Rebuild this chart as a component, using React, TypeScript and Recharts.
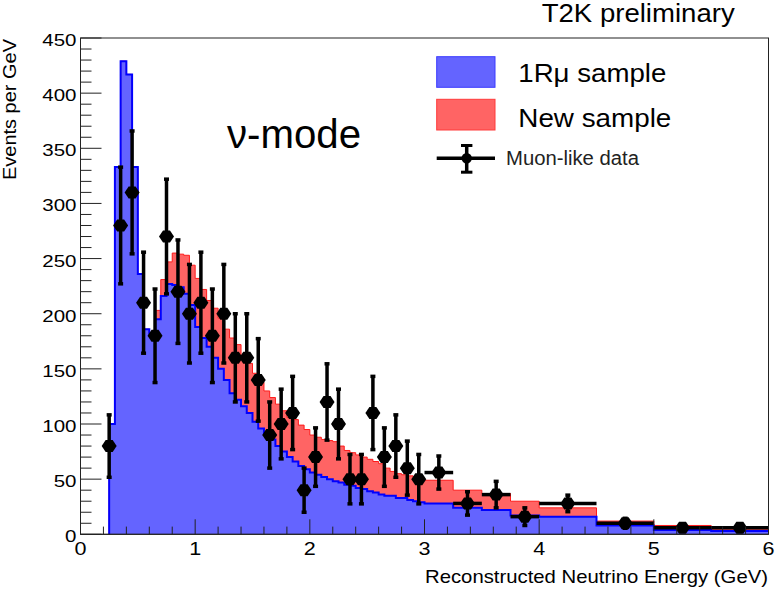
import React from 'react';
import { ComposedChart, Area, Line, Scatter, XAxis, YAxis, ErrorBar } from 'recharts';

// MC histogram bin low edges (GeV); last bin ends at 6.0
const binLowEdges = [
  0.25, 0.3, 0.35, 0.4, 0.45, 0.5, 0.55, 0.6, 0.65, 0.7, 0.75, 0.8, 0.85, 0.9, 0.95,
  1.0, 1.05, 1.1, 1.15, 1.2, 1.25, 1.3, 1.35, 1.4, 1.45, 1.5, 1.55, 1.6, 1.65, 1.7, 1.75, 1.8, 1.85, 1.9, 1.95,
  2.0, 2.05, 2.1, 2.15, 2.2, 2.25, 2.3, 2.35, 2.4, 2.45, 2.5, 2.55, 2.6, 2.65, 2.7, 2.75, 2.8, 2.85, 2.9, 2.95,
  3.0, 3.25, 3.5, 3.75, 4.0, 4.5, 5.0, 5.5,
];
const binHighEdge = 6.0;

// 1Rmu sample (events per GeV)
const sample1Rmu = [
  100, 333, 429, 417, 333, 236, 186, 180, 195, 216, 227, 226, 224, 218, 208,
  188, 178, 170, 160, 150, 140, 128, 122, 116, 110, 102, 96, 90, 86, 80, 75, 70, 66, 62, 59,
  56, 54, 52, 50, 48, 47, 45, 44, 42, 41, 39, 38, 36, 35, 35, 33, 33, 31, 30, 29,
  28, 24, 22, 17, 16, 8, 4, 3,
];

// New sample (stacked on top of 1Rmu)
const sampleNew = [
  0, 0, 0, 0, 0, 0, 0, 2, 8, 15, 20, 29, 30, 35, 36,
  44, 44, 42, 45, 46, 46, 50, 50, 46, 45, 44, 42, 40, 38, 38, 37, 36, 38, 37, 36,
  34, 34, 34, 35, 36, 33, 31, 30, 30, 29, 29, 28, 28, 25, 22, 22, 21, 22, 22, 22,
  21, 16, 15, 13, 8, 4, 4, 2,
];

// Muon-like data
const dataEnergy = [
  0.25, 0.35, 0.45, 0.55, 0.65, 0.75, 0.85, 0.95, 1.05, 1.15, 1.25, 1.35, 1.45, 1.55,
  1.65, 1.75, 1.85, 1.95, 2.05, 2.15, 2.25, 2.35, 2.45, 2.55, 2.65, 2.75, 2.85, 2.95,
  3.125, 3.375, 3.625, 3.875, 4.25, 4.75, 5.25, 5.75,
];
const dataEvents = [
  80, 280, 310, 210, 180, 270, 220, 200, 210, 180, 200, 160, 160, 140,
  90, 100, 110, 40, 70, 120, 100, 50, 50, 110, 70, 80, 60, 50,
  56, 28, 36, 16, 28, 10, 6, 6,
];
const dataErrY = [
  28.3, 52.9, 55.7, 45.8, 42.4, 52.0, 46.9, 44.7, 45.8, 42.4, 44.7, 40.0, 40.0, 37.4,
  30.0, 31.6, 33.2, 20.0, 26.5, 34.6, 31.6, 22.4, 22.4, 33.2, 26.5, 28.3, 24.5, 22.4,
  15.0, 10.6, 12.0, 8.0, 7.5, 4.5, 3.5, 3.5,
];
const dataErrX = [
  0.05, 0.05, 0.05, 0.05, 0.05, 0.05, 0.05, 0.05, 0.05, 0.05, 0.05, 0.05, 0.05, 0.05,
  0.05, 0.05, 0.05, 0.05, 0.05, 0.05, 0.05, 0.05, 0.05, 0.05, 0.05, 0.05, 0.05, 0.05,
  0.125, 0.125, 0.125, 0.125, 0.25, 0.25, 0.25, 0.25,
];

const xTicks = [
  0, 0.2, 0.4, 0.6, 0.8, 1, 1.2, 1.4, 1.6, 1.8, 2, 2.2, 2.4, 2.6, 2.8, 3,
  3.2, 3.4, 3.6, 3.8, 4, 4.2, 4.4, 4.6, 4.8, 5, 5.2, 5.4, 5.6, 5.8, 6,
];
const yTicks = [
  0, 10, 20, 30, 40, 50, 60, 70, 80, 90, 100, 110, 120, 130, 140, 150, 160, 170, 180, 190,
  200, 210, 220, 230, 240, 250, 260, 270, 280, 290, 300, 310, 320, 330, 340, 350, 360, 370,
  380, 390, 400, 410, 420, 430, 440, 450,
];

const histRows = [
  { x: binLowEdges[0], blue: 0, red: 0 },
  ...binLowEdges.map((e, i) => ({ x: e, blue: sample1Rmu[i], red: sampleNew[i] })),
  { x: binHighEdge, blue: sample1Rmu[sample1Rmu.length - 1], red: sampleNew[sampleNew.length - 1] },
];

const dataRows = dataEnergy.map((e, i) => ({ x: e, y: dataEvents[i], ey: dataErrY[i], ex: dataErrX[i] }));

const FONT = '"Liberation Sans", Arial, Helvetica, sans-serif';
const AXIS = '#222';

const YTick = (props: any) => {
  const { x, y, payload } = props;
  const v = payload.value as number;
  const major = v % 50 === 0;
  const s = String(v);
  return (
    <g>
      <line x1={x} x2={x + (major ? 21 : 11)} y1={y} y2={y} stroke={AXIS} strokeWidth={1} />
      {major && (
        <text x={x - 4} y={y + 8} textAnchor="end" fontFamily={FONT} fontSize={17} fill="#000"
          textLength={s.length * 11.4} lengthAdjust="spacingAndGlyphs">{s}</text>
      )}
    </g>
  );
};

const XTick = (props: any) => {
  const { x, y, payload } = props;
  const v = payload.value as number;
  const major = Math.abs(v - Math.round(v)) < 1e-6;
  const s = String(Math.round(v));
  return (
    <g>
      <line x1={x} x2={x} y1={y} y2={y - (major ? 15 : 7.7)} stroke={AXIS} strokeWidth={1} />
      {major && (
        <text x={x} y={y + 21} textAnchor="middle" fontFamily={FONT} fontSize={19} fill="#000"
          textLength={12} lengthAdjust="spacingAndGlyphs">{s}</text>
      )}
    </g>
  );
};

const Marker = (props: any) => {
  const { cx, cy } = props;
  if (cx == null || cy == null) return null;
  const pts = [
    [cx - 7.5, cy], [cx - 3.5, cy - 6], [cx + 3.5, cy - 6],
    [cx + 7.5, cy], [cx + 3.5, cy + 6], [cx - 3.5, cy + 6],
  ].map((p) => p.join(',')).join(' ');
  return <polygon points={pts} fill="#000" />;
};

const L = 80.5, R = 768.5, T = 38, B = 534.3;
const Y_AXIS_W = 70;
const X_AXIS_H = 50;

export default function App() {
  return (
    <div style={{ position: 'absolute', left: 0, top: 0, width: 776, height: 592, background: '#fff' }}>
      <ComposedChart
        width={776}
        height={592}
        data={histRows}
        margin={{ left: L - Y_AXIS_W, right: 776 - R, top: T, bottom: 592 - B - X_AXIS_H }}
      >
        <XAxis
          dataKey="x"
          type="number"
          domain={[0, 6]}
          ticks={xTicks}
          interval={0}
          height={X_AXIS_H}
          tickSize={0}
          tickMargin={0}
          tickLine={false}
          axisLine={{ stroke: AXIS, strokeWidth: 1 }}
          tick={<XTick />}
          allowDataOverflow
        />
        <YAxis
          type="number"
          domain={[0, 450]}
          ticks={yTicks}
          interval={0}
          width={Y_AXIS_W}
          tickSize={0}
          tickMargin={0}
          tickLine={false}
          axisLine={{ stroke: AXIS, strokeWidth: 1 }}
          tick={<YTick />}
          allowDataOverflow
        />
        <Area
          type="stepAfter"
          dataKey="blue"
          stackId="mc"
          fill="#6464ff"
          fillOpacity={1}
          stroke="none"
          isAnimationActive={false}
        />
        <Area
          type="stepAfter"
          dataKey="red"
          stackId="mc"
          fill="#ff6464"
          fillOpacity={1}
          stroke="#ff1a1a"
          strokeWidth={1}
          isAnimationActive={false}
        />
        <Line
          type="stepAfter"
          dataKey="blue"
          stroke="#0000ff"
          strokeWidth={2}
          dot={false}
          activeDot={false}
          isAnimationActive={false}
        />
        <Scatter data={dataRows} dataKey="y" shape={<Marker />} isAnimationActive={false}>
          <ErrorBar dataKey="ey" direction="y" width={2.5} stroke="#000" strokeWidth={3.5} />
          <ErrorBar dataKey="ex" direction="x" width={0} stroke="#000" strokeWidth={3.5} />
        </Scatter>
      </ComposedChart>
      <svg
        width={776}
        height={592}
        style={{ position: 'absolute', left: 0, top: 0, pointerEvents: 'none' }}
      >
        <rect x={L} y={T} width={R - L} height={B - T} fill="none" stroke={AXIS} strokeWidth={1} />
        <text x={541.7} y={21.7} fontFamily={FONT} fontSize={25} fill="#000" textLength={193} lengthAdjust="spacingAndGlyphs">T2K preliminary</text>
        <text x={227} y={147.5} fontFamily={FONT} fontSize={40} fill="#000" textLength={134} lengthAdjust="spacingAndGlyphs">ν-mode</text>
        <rect x={436.7} y={56.7} width={58.3} height={30.6} fill="#6464ff" stroke="#3a3aff" strokeWidth={1} />
        <text x={518.3} y={81.7} fontFamily={FONT} fontSize={25} fill="#000" textLength={148} lengthAdjust="spacingAndGlyphs">1Rμ sample</text>
        <rect x={436.7} y={99.3} width={58.3} height={30.7} fill="#ff6464" stroke="#ff3a3a" strokeWidth={1} />
        <text x={518.3} y={126.7} fontFamily={FONT} fontSize={25} fill="#000" textLength={153} lengthAdjust="spacingAndGlyphs">New sample</text>
        <line x1={436.7} x2={495} y1={158.3} y2={158.3} stroke="#000" strokeWidth={3.5} />
        <line x1={466.7} x2={466.7} y1={145} y2={172.7} stroke="#000" strokeWidth={3.5} />
        <line x1={461} x2={472.4} y1={145.5} y2={145.5} stroke="#000" strokeWidth={3} />
        <line x1={461} x2={472.4} y1={172.2} y2={172.2} stroke="#000" strokeWidth={3} />
        <circle cx={466.7} cy={158.3} r={5.2} fill="#000" />
        <text x={506} y={165} fontFamily={FONT} fontSize={19.5} fill="#222" textLength={133} lengthAdjust="spacingAndGlyphs">Muon-like data</text>
        <text x={425} y={582.7} fontFamily={FONT} fontSize={19} fill="#000" textLength={343} lengthAdjust="spacingAndGlyphs">Reconstructed Neutrino Energy (GeV)</text>
        <text transform="translate(16,180) rotate(-90)" x={0} y={0} fontFamily={FONT} fontSize={18} fill="#000" textLength={141} lengthAdjust="spacingAndGlyphs">Events per GeV</text>
      </svg>
    </div>
  );
}
